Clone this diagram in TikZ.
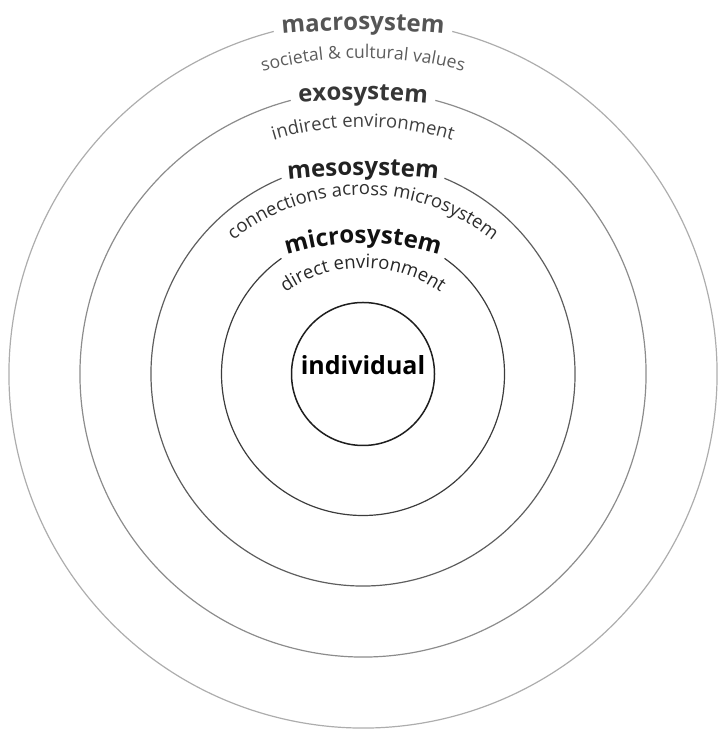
\documentclass[tikz,border=0pt]{standalone}
\usepackage{fontspec}
\setmainfont{Open Sans}
\usetikzlibrary{decorations.text}
\definecolor{bronRingMacro}{HTML}{ADADAD}
\definecolor{bronRingExo}{HTML}{8C8C8C}
\definecolor{bronRingMeso}{HTML}{5E5E5E}
\definecolor{bronRingMicro}{HTML}{3C3C3C}
\definecolor{bronRingCore}{HTML}{1E1E1E}
\definecolor{bronTitleMacro}{HTML}{555555}
\definecolor{bronTitleExo}{HTML}{363636}
\definecolor{bronTitleMeso}{HTML}{222222}
\definecolor{bronTitleMicro}{HTML}{111111}
\definecolor{bronSubMacro}{HTML}{5C5C5C}
\definecolor{bronSubExo}{HTML}{404040}
\definecolor{bronSubMeso}{HTML}{2E2E2E}
\definecolor{bronSubMicro}{HTML}{262626}
\newcommand{\bronTitleFont}{\fontsize{24}{28}\selectfont\bfseries}
\newcommand{\bronSubFont}{\fontsize{18.5}{22}\selectfont}
\newcommand{\bronOuterSubFont}{\fontsize{17.6}{21}\selectfont}
\tikzset{
  bronRing/.style={line width=1.2pt, draw=#1},
  bronLabel/.style={decorate, decoration={text along path, text align=center, text color=#1}}
}

\begin{document}
\begin{tikzpicture}[x=1pt, y=1pt]
\useasboundingbox (0,0) rectangle (719,730);
\coordinate (centre) at (363,356);
% rings, each broken at the top for its title
\draw[bronRing=bronRingMacro] (centre) ++(75.4:354) arc[start angle=75.4, end angle=-255.4, radius=354];
\draw[bronRing=bronRingExo] (centre) ++(75.2:283) arc[start angle=75.2, end angle=-255.2, radius=283];
\draw[bronRing=bronRingMeso] (centre) ++(67.4:212) arc[start angle=67.4, end angle=-247.4, radius=212];
\draw[bronRing=bronRingMicro] (centre) ++(54.8:141.5) arc[start angle=54.8, end angle=-234.8, radius=141.5];
\draw[line width=1.5pt, draw=bronRingCore] (centre) circle[radius=71.5];
\node[anchor=base, font=\fontsize{25}{30}\selectfont\bfseries] (individual) at (363,355) {individual};
% titles
\path[bronLabel=bronTitleMacro, decoration={text={|\bronTitleFont|macrosystem}}]
  (363,700) ++(0,-800) ++(100:800) arc[start angle=100, end angle=80, radius=800];
\path[bronLabel=bronTitleExo, decoration={text={|\bronTitleFont|exosystem}}]
  (363,630) ++(0,-700) ++(103:700) arc[start angle=103, end angle=77, radius=700];
\path[bronLabel=bronTitleMeso, decoration={text={|\bronTitleFont|mesosystem}}]
  (363,555) ++(0,-650) ++(103:650) arc[start angle=103, end angle=77, radius=650];
\path[bronLabel=bronTitleMicro, decoration={text={|\bronTitleFont|microsystem}}]
  (363,487) ++(0,-250) ++(130:250) arc[start angle=130, end angle=50, radius=250];
% descriptions
\path[bronLabel=bronSubMacro, decoration={text={|\bronOuterSubFont|societal {\&} cultural values}}]
  (363,672) ++(0,-385) ++(115:385) arc[start angle=115, end angle=65, radius=385];
\path[bronLabel=bronSubExo, decoration={text={|\bronSubFont|indirect environment}}]
  (363,603) ++(0,-311) ++(120:311) arc[start angle=120, end angle=60, radius=311];
\path[bronLabel=bronSubMeso, decoration={text={|\bronSubFont|connections across microsystem}}]
  (363,535) ++(0,-208) ++(150:208) arc[start angle=150, end angle=30, radius=208];
\path[bronLabel=bronSubMicro, decoration={text={|\bronSubFont|direct environment}}]
  (363,462) ++(0,-136) ++(150:136) arc[start angle=150, end angle=30, radius=136];
\end{tikzpicture}
\end{document}
